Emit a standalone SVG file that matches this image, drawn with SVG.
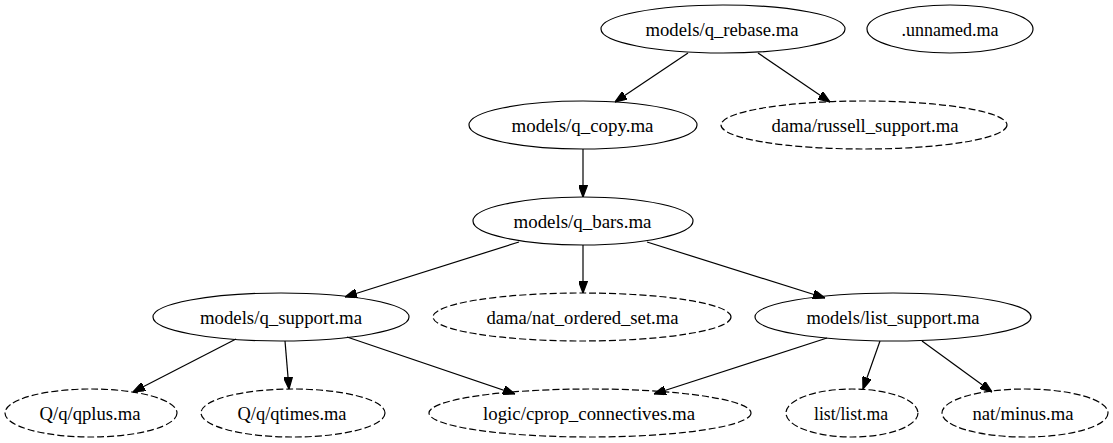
<svg xmlns="http://www.w3.org/2000/svg" width="1113" height="443" viewBox="0 0 1113 443">
<style>
.n ellipse{fill:none;stroke:#000;stroke-width:1.2}
.d ellipse{stroke-dasharray:7,3}
text{font-family:"Liberation Serif","Times New Roman",serif;font-size:18px;text-anchor:middle;fill:#000}
.e line{stroke:#000;stroke-width:1.2;marker-end:url(#ah)}
</style>
<defs>
<marker id="ah" viewBox="0 0 10 7" refX="10" refY="3.5" markerWidth="12" markerHeight="9" markerUnits="userSpaceOnUse" orient="auto" preserveAspectRatio="none">
<polygon points="0,0 10,3.5 0,7" fill="#000" stroke="#000"/>
</marker>
</defs>
<rect width="1113" height="443" fill="#fff"/>
<g id="edges" class="e">
<line x1="688" y1="53" x2="615" y2="102"/>
<line x1="758" y1="53" x2="830" y2="102"/>
<line x1="583" y1="149" x2="583" y2="197"/>
<line x1="519" y1="242" x2="345" y2="297"/>
<line x1="583" y1="245" x2="583" y2="293"/>
<line x1="647" y1="242" x2="825" y2="298"/>
<line x1="236" y1="339" x2="133" y2="392"/>
<line x1="285" y1="341" x2="289" y2="389"/>
<line x1="347" y1="337" x2="515" y2="394"/>
<line x1="827" y1="338" x2="654" y2="394"/>
<line x1="880" y1="341" x2="863" y2="389"/>
<line x1="922" y1="341" x2="992" y2="392"/>
</g>
<g id="q_rebase" class="n"><ellipse cx="723" cy="29" rx="122" ry="24"/><text x="722" y="36" textLength="153" lengthAdjust="spacingAndGlyphs">models/q_rebase.ma</text></g>
<g id="unnamed" class="n"><ellipse cx="950" cy="29" rx="83" ry="24"/><text x="950" y="36" textLength="97" lengthAdjust="spacingAndGlyphs">.unnamed.ma</text></g>
<g id="q_copy" class="n"><ellipse cx="583" cy="125" rx="114" ry="24"/><text x="582.5" y="132" textLength="142" lengthAdjust="spacingAndGlyphs">models/q_copy.ma</text></g>
<g id="russell_support" class="n d"><ellipse cx="864" cy="125" rx="143" ry="24"/><text x="865" y="132" textLength="187" lengthAdjust="spacingAndGlyphs">dama/russell_support.ma</text></g>
<g id="q_bars" class="n"><ellipse cx="583" cy="221" rx="110" ry="24"/><text x="582.5" y="228" textLength="138" lengthAdjust="spacingAndGlyphs">models/q_bars.ma</text></g>
<g id="q_support" class="n"><ellipse cx="281" cy="317" rx="128" ry="24"/><text x="281" y="324" textLength="162" lengthAdjust="spacingAndGlyphs">models/q_support.ma</text></g>
<g id="nat_ordered_set" class="n d"><ellipse cx="582" cy="317" rx="149" ry="24"/><text x="582.5" y="324" textLength="192" lengthAdjust="spacingAndGlyphs">dama/nat_ordered_set.ma</text></g>
<g id="list_support" class="n"><ellipse cx="893" cy="317" rx="138" ry="24"/><text x="893" y="324" textLength="173" lengthAdjust="spacingAndGlyphs">models/list_support.ma</text></g>
<g id="qplus" class="n d"><ellipse cx="91" cy="413" rx="86" ry="24"/><text x="90" y="420" textLength="101" lengthAdjust="spacingAndGlyphs">Q/q/qplus.ma</text></g>
<g id="qtimes" class="n d"><ellipse cx="293" cy="413" rx="92" ry="24"/><text x="292" y="420" textLength="109" lengthAdjust="spacingAndGlyphs">Q/q/qtimes.ma</text></g>
<g id="cprop_connectives" class="n d"><ellipse cx="590" cy="413" rx="161" ry="24"/><text x="589" y="420" textLength="212" lengthAdjust="spacingAndGlyphs">logic/cprop_connectives.ma</text></g>
<g id="list" class="n d"><ellipse cx="852" cy="413" rx="66" ry="24"/><text x="851" y="420" textLength="74" lengthAdjust="spacingAndGlyphs">list/list.ma</text></g>
<g id="minus" class="n d"><ellipse cx="1025" cy="413" rx="83" ry="24"/><text x="1023" y="420" textLength="101" lengthAdjust="spacingAndGlyphs">nat/minus.ma</text></g>
</svg>
